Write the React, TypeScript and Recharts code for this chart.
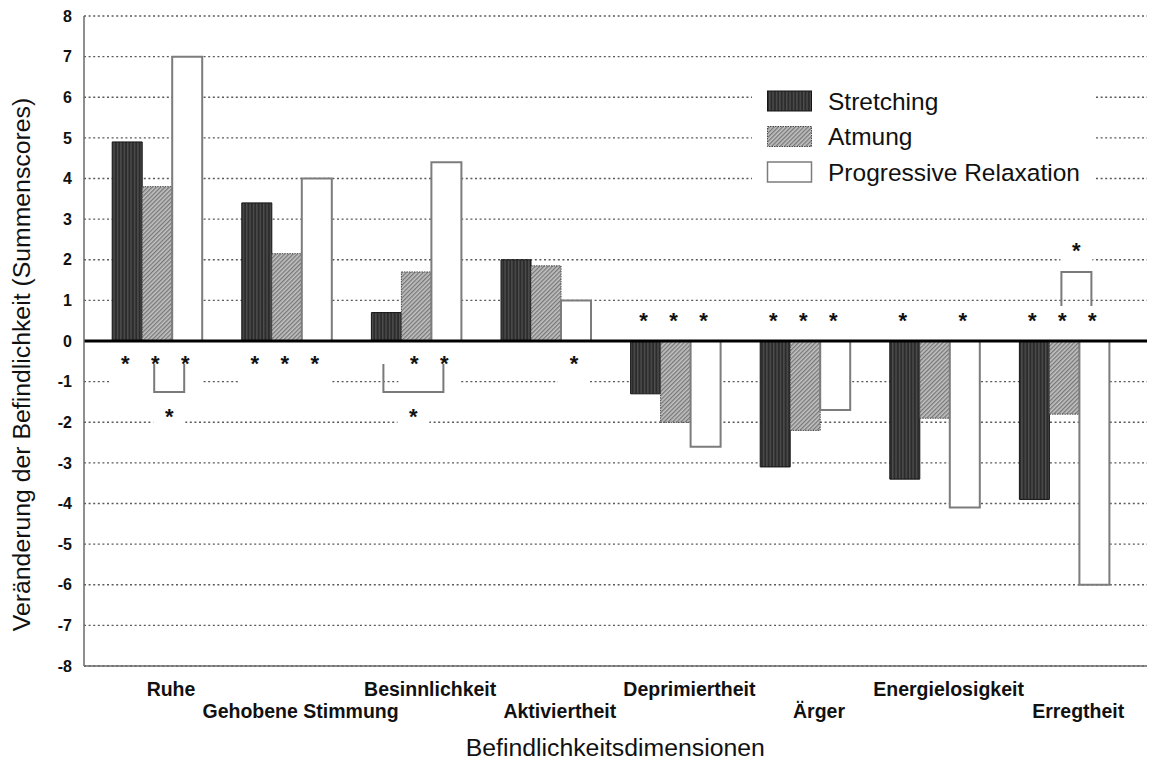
import React from 'react';
import { BarChart, Bar, XAxis, YAxis, CartesianGrid, ReferenceLine, LabelList, Legend } from 'recharts';

const categories = ['Ruhe', 'Gehobene Stimmung', 'Besinnlichkeit', 'Aktiviertheit', 'Deprimiertheit', 'Ärger', 'Energielosigkeit', 'Erregtheit'];
const seriesNames = ['Stretching', 'Atmung', 'Progressive Relaxation'];
const stretching = [4.9, 3.4, 0.7, 2.0, -1.3, -3.1, -3.4, -3.9];
const atmung = [3.8, 2.15, 1.7, 1.85, -2.0, -2.2, -1.9, -1.8];
const progressive = [7.0, 4.0, 4.4, 1.0, -2.6, -1.7, -4.1, -6.0];
const sigStretching = [true, true, false, false, true, true, true, true];
const sigAtmung = [true, true, true, false, true, true, false, true];
const sigProgressive = [true, true, true, true, true, true, true, true];
const brackets = [
  { category: 'Ruhe', from: 1, to: 2 },
  { category: 'Besinnlichkeit', from: 0, to: 2 },
  { category: 'Erregtheit', from: 1, to: 2 },
];
const yTicks = [-8, -7, -6, -5, -4, -3, -2, -1, 0, 1, 2, 3, 4, 5, 6, 7, 8];
const xMinorTicks = Array.from({ length: 24 }, (_, i) => i + 1);
const yMinorTicks = Array.from({ length: 65 }, (_, i) => -8 + i * 0.25);

const xAxisTitle = 'Befindlichkeitsdimensionen';
const yAxisTitle = 'Veränderung der Befindlichkeit (Summenscores)';

const data = categories.map((name, i) => ({ name, s: stretching[i], a: atmung[i], p: progressive[i] }));
const sigs = [sigStretching, sigAtmung, sigProgressive];

const FONT = '"Liberation Sans", Arial, Helvetica, sans-serif';
const seriesFill = ['url(#patS)', 'url(#patA)', '#ffffff'];
const seriesStroke = ['#151515', '#4a4a4a', '#7c7c7c'];
const seriesDash = [undefined, '1.5 1', undefined];
const seriesStrokeWidth = [1, 1, 2];

function Asterisk({ cx, cy, below }: { cx: number; cy: number; below: boolean }) {
  return (
    <g>
      <rect x={cx - 16} y={cy - 12} width={32} height={below ? 38 : 32} fill="#ffffff" />
      <text x={cx} y={cy + 0.57 * 22} textAnchor="middle" fontFamily={FONT} fontWeight="bold" fontSize={22} fill="#111">*</text>
    </g>
  );
}

function geom(props: any) {
  const vb = props.viewBox && props.viewBox.width !== undefined ? props.viewBox : props;
  const x = Number(vb.x), y = Number(vb.y), w = Number(vb.width), h = Number(vb.height);
  const value = Number(props.value);
  const top = Math.min(y, y + h), bottom = Math.max(y, y + h);
  const zero = value >= 0 ? bottom : top;
  const left = Math.min(x, x + w);
  const bw = Math.abs(w);
  return { left, bw, zero, value };
}

const makeLabel = (seriesIdx: number) => (props: any) => {
  const { left, bw, zero, value } = geom(props);
  const index = Number(props.index);
  if (!isFinite(left) || !isFinite(zero)) return null;
  const items: any[] = [];
  const below = value >= 0;
  if (sigs[seriesIdx][index]) {
    const cx = left + bw / 2 - 2;
    const cy = below ? zero + 17 : zero - 26;
    items.push(<Asterisk key="a" cx={cx} cy={cy} below={below} />);
  }
  if (seriesIdx === 2) {
    const b = brackets.find((bb) => bb.category === categories[index]);
    if (b) {
      const center = (k: number) => left + bw / 2 - (2 - k) * bw - 3;
      const x1 = center(b.from), x2 = center(b.to);
      const dir = below ? 1 : -1;
      const yStart = zero + dir * (below ? 23 : 35);
      const yEnd = zero + dir * (below ? 51 : 69);
      const mid = (x1 + x2) / 2;
      const starY = zero + dir * (below ? 70 : 96);
      items.push(
        <g key="b">
          <Asterisk cx={mid} cy={starY} below={below} />
          <path d={`M${x1},${yStart}V${yEnd}H${x2}V${yStart}`} fill="none" stroke="#7a7a7a" strokeWidth={2} />
        </g>
      );
    }
  }
  return <g>{items}</g>;
};

const XTick = (props: any) => {
  const { x, y, payload, index } = props;
  const row = index % 2;
  return (
    <text x={x + 14} y={y + (row === 0 ? 30 : 52)} textAnchor="middle" fontFamily={FONT} fontWeight="bold" fontSize={19.5} fill="#111">
      {payload.value}
    </text>
  );
};

const LegendContent = () => (
  <div style={{ background: '#fff', width: 343, height: 118 }}>
    <svg width={343} height={118}>
      {seriesNames.map((n, i) => {
        const cy = 25 + i * 35.5;
        return (
          <g key={n}>
            <rect x={15.5} y={cy - 10} width={44} height={20} fill={seriesFill[i]} stroke={seriesStroke[i]} strokeWidth={seriesStrokeWidth[i] === 2 ? 1.5 : 1} strokeDasharray={seriesDash[i]} />
            <text x={76} y={cy + 8.8} fontFamily={FONT} fontSize={24.5} fill="#111">{n}</text>
          </g>
        );
      })}
    </svg>
  </div>
);

export default function App() {
  return (
    <div style={{ width: 1147, height: 758, marginBottom: -8, overflow: 'hidden', position: 'relative', background: '#fff' }}>
      <BarChart width={1160} height={758} data={data} margin={{ top: 8, right: 1.5, left: 0, bottom: 0 }} barGap={0} barSize={30}>
        <defs>
          <pattern id="patS" width="3.4" height="10" patternUnits="userSpaceOnUse">
            <rect width="3.4" height="10" fill="#2c2c2c" />
            <rect x="0" width="1.4" height="10" fill="#4e4e4e" />
          </pattern>
          <pattern id="patA" width="3" height="3" patternUnits="userSpaceOnUse" patternTransform="rotate(45)">
            <rect width="3" height="3" fill="#c2c2c2" />
            <rect width="1.3" height="3" fill="#777777" />
          </pattern>
        </defs>
        <CartesianGrid vertical={false} stroke="#5a5a5a" strokeDasharray="2 2.6" strokeWidth={1.3} />
        <XAxis
          dataKey="name"
          interval={0}
          height={100}
          padding={{ left: 8.2, right: 37.5 }}
          tickLine={false}
          tickSize={0}
          tickMargin={0}
          axisLine={{ stroke: '#6a6a6a', strokeWidth: 1.5 }}
          tick={<XTick />}
          label={{
            content: (p: any) => {
              const vb = p.viewBox || { x: 76, y: 658, width: 1082.5, height: 100 };
              return (
                <text x={vb.x + vb.width / 2 - 10} y={vb.y + 90} textAnchor="middle" fontFamily={FONT} fontSize={24.8} fill="#111">
                  {xAxisTitle}
                </text>
              );
            },
          }}
        />
        <XAxis xAxisId="minorTop" orientation="top" type="number" domain={[0, 25]} ticks={xMinorTicks} allowDataOverflow mirror height={0} tick={false} tickSize={4} axisLine={{ stroke: '#6a6a6a', strokeWidth: 1.5 }} tickLine={{ stroke: '#555' }} />
        <XAxis xAxisId="minorBottom" orientation="bottom" type="number" domain={[0, 25]} ticks={xMinorTicks} allowDataOverflow mirror height={0} tick={false} tickSize={4} axisLine={false} tickLine={{ stroke: '#555' }} />
        <YAxis
          type="number"
          domain={[-8, 8]}
          ticks={yTicks}
          interval={0}
          allowDataOverflow
          width={76}
          tickLine={false}
          tickSize={0}
          tickMargin={12}
          axisLine={{ stroke: '#6a6a6a', strokeWidth: 1.5 }}
          tick={{ fontFamily: FONT, fontWeight: 'bold', fontSize: 16, fill: '#111' }}
          label={{
            content: (p: any) => {
              const vb = p.viewBox || { x: 0, y: 8, width: 76, height: 650 };
              const cx = vb.x + 22;
              const cy = vb.y + vb.height / 2 + 23.5;
              return (
                <text x={cx} y={cy} transform={`rotate(-90, ${cx}, ${cy})`} textAnchor="middle" fontFamily={FONT} fontSize={24.8} fill="#111">
                  {yAxisTitle}
                </text>
              );
            },
          }}
        />
        <YAxis yAxisId="minor" orientation="left" type="number" domain={[-8, 8]} ticks={yMinorTicks} interval={0} allowDataOverflow mirror width={0} tick={false} tickSize={4} axisLine={false} tickLine={{ stroke: '#555' }} />
        <Bar dataKey="s" name={seriesNames[0]} fill={seriesFill[0]} stroke={seriesStroke[0]} strokeWidth={seriesStrokeWidth[0]} isAnimationActive={false}>
          <LabelList dataKey="s" content={makeLabel(0)} />
        </Bar>
        <Bar dataKey="a" name={seriesNames[1]} fill={seriesFill[1]} stroke={seriesStroke[1]} strokeDasharray={seriesDash[1]} strokeWidth={seriesStrokeWidth[1]} isAnimationActive={false}>
          <LabelList dataKey="a" content={makeLabel(1)} />
        </Bar>
        <Bar dataKey="p" name={seriesNames[2]} fill={seriesFill[2]} stroke={seriesStroke[2]} strokeWidth={seriesStrokeWidth[2]} isAnimationActive={false}>
          <LabelList dataKey="p" content={makeLabel(2)} />
        </Bar>
        <ReferenceLine y={0} stroke="#000" strokeWidth={3} />
        <Legend
          layout="vertical"
          align="center"
          verticalAlign="middle"
          content={<LegendContent />}
          wrapperStyle={{ position: 'absolute', left: 744, top: 68, width: 343, height: 118, right: 'auto', bottom: 'auto' }}
        />
      </BarChart>
    </div>
  );
}
